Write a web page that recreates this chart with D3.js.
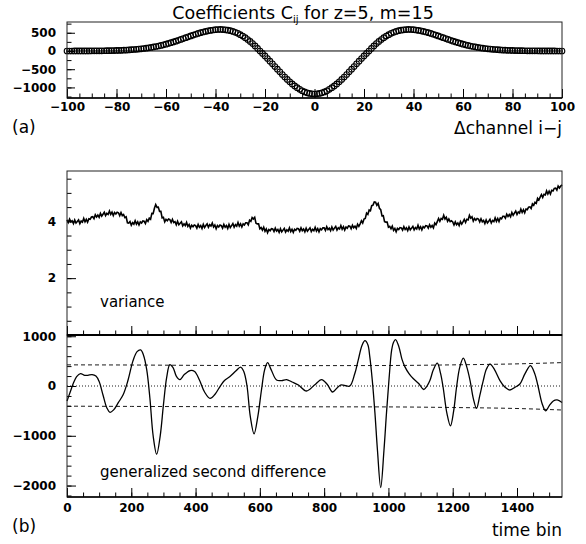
<!DOCTYPE html>
<html>
<head>
<meta charset="utf-8">
<script src="https://cdn.jsdelivr.net/npm/d3@7"></script>
<style>
  body { margin: 0; background: #fff; }
  svg text { font-family: "DejaVu Sans", sans-serif; fill: #000; }
  .tick text { font-size: 12px; font-weight: bold; font-family: "DejaVu Sans", sans-serif; }
  .domain { display: none; }
</style>
</head>
<body>
<svg id="chart" width="586" height="544"></svg>
<script>
// panel (a): coefficients C_ij, lag -100 .. 100
const coefValues = [
  0, 0, 0, 1, 1, 1, 1, 2, 2, 2,
  3, 3, 4, 4, 5, 6, 7, 9, 10, 12,
  14, 16, 19, 22, 26, 30, 35, 40, 46, 52,
  60, 68, 77, 87, 98, 110, 123, 137, 153, 170,
  188, 207, 227, 248, 270, 293, 317, 341, 365, 389,
  413, 436, 459, 481, 501, 520, 537, 552, 565, 576,
  584, 589, 590, 588, 581, 571, 556, 536, 512, 483,
  448, 409, 365, 315, 261, 202, 139, 71, 0, -66,
  -135, -207, -279, -353, -427, -500, -573, -645, -714, -781,
  -844, -904, -958, -1008, -1052, -1091, -1122, -1147, -1165, -1176,
  -1180,
  -1176, -1165, -1147, -1122, -1091, -1052, -1008, -958, -904, -844,
  -781, -714, -645, -573, -500, -427, -353, -279, -207, -135,
  -66, 0, 71, 139, 202, 261, 315, 365, 409, 448,
  483, 512, 536, 556, 571, 581, 588, 590, 589, 584,
  576, 565, 552, 537, 520, 501, 481, 459, 436, 413,
  389, 365, 341, 317, 293, 270, 248, 227, 207, 188,
  170, 153, 137, 123, 110, 98, 87, 77, 68, 60,
  52, 46, 40, 35, 30, 26, 22, 19, 16, 14,
  12, 10, 9, 7, 6, 5, 4, 4, 3, 3,
  2, 2, 2, 1, 1, 1, 1, 0, 0, 0
];
const coefLags = d3.range(-100, 101);

// panel (b) top: variance, one value every 4 time bins
const varStep = 4;
const varianceValues = [
  4.05, 3.96, 4.08, 3.98, 4.02, 3.92, 4.05, 3.94, 3.99, 4.05,
  3.92, 4.01, 3.97, 4.10, 3.98, 4.07, 3.97, 4.09, 4.07, 4.15,
  4.16, 4.09, 4.23, 4.15, 4.22, 4.14, 4.28, 4.18, 4.25, 4.32,
  4.20, 4.28, 4.24, 4.36, 4.24, 4.32, 4.20, 4.31, 4.26, 4.32,
  4.30, 4.20, 4.31, 4.20, 4.24, 4.13, 4.16, 3.95, 3.94, 3.99,
  3.86, 3.95, 3.90, 4.02, 3.90, 3.98, 3.87, 3.98, 3.94, 4.01,
  4.00, 3.92, 4.06, 4.00, 4.11, 4.07, 4.28, 4.27, 4.46, 4.59,
  4.49, 4.50, 4.35, 4.35, 4.12, 4.14, 3.98, 4.07, 4.02, 4.08,
  4.06, 3.96, 4.07, 3.96, 3.99, 3.88, 4.00, 3.88, 3.93, 3.98,
  3.84, 3.91, 3.85, 3.96, 3.82, 3.89, 3.76, 3.86, 3.81, 3.87,
  3.85, 3.76, 3.89, 3.79, 3.85, 3.75, 3.89, 3.78, 3.85, 3.91,
  3.79, 3.88, 3.83, 3.94, 3.80, 3.87, 3.74, 3.85, 3.80, 3.87,
  3.85, 3.76, 3.89, 3.79, 3.85, 3.75, 3.89, 3.78, 3.85, 3.92,
  3.79, 3.88, 3.83, 3.96, 3.83, 3.91, 3.80, 3.91, 3.87, 3.95,
  3.95, 3.88, 4.04, 4.00, 4.13, 4.08, 4.14, 3.93, 3.91, 3.91,
  3.74, 3.78, 3.69, 3.79, 3.65, 3.73, 3.60, 3.71, 3.67, 3.74,
  3.73, 3.64, 3.76, 3.66, 3.71, 3.61, 3.74, 3.63, 3.69, 3.75,
  3.62, 3.70, 3.65, 3.77, 3.64, 3.72, 3.61, 3.72, 3.68, 3.75,
  3.74, 3.65, 3.77, 3.67, 3.73, 3.63, 3.76, 3.65, 3.71, 3.77,
  3.64, 3.72, 3.67, 3.79, 3.66, 3.74, 3.63, 3.74, 3.70, 3.77,
  3.77, 3.68, 3.81, 3.71, 3.76, 3.67, 3.80, 3.69, 3.76, 3.82,
  3.69, 3.77, 3.73, 3.85, 3.72, 3.81, 3.69, 3.80, 3.76, 3.84,
  3.83, 3.74, 3.86, 3.77, 3.83, 3.75, 3.90, 3.82, 3.91, 4.02,
  3.94, 4.08, 4.10, 4.29, 4.24, 4.40, 4.37, 4.55, 4.57, 4.68,
  4.67, 4.56, 4.63, 4.46, 4.41, 4.19, 4.20, 3.99, 3.97, 3.97,
  3.79, 3.82, 3.74, 3.83, 3.68, 3.75, 3.63, 3.75, 3.71, 3.78,
  3.77, 3.69, 3.81, 3.71, 3.77, 3.67, 3.80, 3.70, 3.76, 3.82,
  3.70, 3.78, 3.73, 3.86, 3.73, 3.81, 3.70, 3.81, 3.77, 3.85,
  3.84, 3.76, 3.88, 3.79, 3.85, 3.77, 3.94, 3.88, 3.99, 4.10,
  4.00, 4.10, 4.07, 4.21, 4.08, 4.14, 4.00, 4.08, 3.99, 4.02,
  3.98, 3.87, 3.98, 3.88, 3.94, 3.85, 3.99, 3.90, 3.98, 4.07,
  3.96, 4.07, 4.05, 4.21, 4.11, 4.16, 4.01, 4.10, 4.04, 4.10,
  4.08, 3.98, 4.09, 3.98, 4.03, 3.92, 4.05, 3.94, 4.00, 4.07,
  3.94, 4.03, 3.99, 4.12, 4.00, 4.10, 3.99, 4.12, 4.09, 4.18,
  4.18, 4.11, 4.25, 4.17, 4.24, 4.16, 4.31, 4.21, 4.29, 4.36,
  4.24, 4.33, 4.29, 4.43, 4.31, 4.41, 4.30, 4.43, 4.41, 4.50,
  4.51, 4.45, 4.61, 4.56, 4.67, 4.63, 4.81, 4.75, 4.85, 4.94,
  4.84, 4.95, 4.93, 5.07, 4.96, 5.06, 4.96, 5.09, 5.07, 5.16,
  5.17, 5.10, 5.24, 5.17, 5.24, 5.28
];

// panel (b) bottom: generalized second difference
const gsdBins = [
  0, 10, 20, 30, 42, 55, 65, 78, 90, 100, 112, 124, 134, 145, 160, 175, 190, 205, 218, 229,
  238, 248, 258, 268, 279, 290, 300, 310, 320, 330, 340, 351, 365, 383, 397, 412, 428, 445, 460, 476,
  490, 507, 525, 540, 550, 560, 570, 582, 594, 605, 615, 624, 635, 652, 668, 683, 700, 720, 745, 770,
  792, 810, 826, 840, 851, 864, 880, 895, 906, 918, 927, 936, 942, 950, 958, 966, 976, 986, 994, 1002,
  1010, 1016, 1022, 1032, 1042, 1051, 1064, 1077, 1094, 1110, 1120, 1129, 1140, 1152, 1162, 1170, 1182, 1193, 1203, 1212,
  1222, 1233, 1243, 1254, 1264, 1274, 1284, 1295, 1305, 1316, 1330, 1347, 1362, 1378, 1395, 1409, 1425, 1442, 1455, 1466,
  1478, 1489, 1500, 1513, 1525, 1540
];
const gsdValues = [
  -300, -120, 60, 190, 250, 215, 215, 230, 200, 90, -180, -440, -530, -480, -330, -170, 120, 500, 690, 725,
  620, 330, -250, -1000, -1370, -1000, -380, 170, 430, 370, 200, 130, 230, 310, 290, 120, -120, -250, -170, -10,
  110, 190, 300, 380, 290, 0, -600, -960, -600, -80, 330, 470, 330, 120, 110, 130, 80, 20, -100, 20,
  130, 30, -120, -40, 20, 10, 0, 240, 520, 820, 910, 830, 590, 100, -540, -1300, -2040, -1300, -540, 150,
  720, 880, 930, 800, 540, 390, 250, 150, 50, -70, 0, 110, 330, 460, 260, -20, -550, -800, -500, -20,
  380, 560, 400, 110, -250, -450, -200, 110, 340, 440, 330, 110, -20, -80, -20, 40, 250, 410, 250, -20,
  -350, -500, -400, -300, -280, -330
];

// threshold bands (dashed)
const bandBins = [0, 200, 400, 600, 800, 1000, 1200, 1400, 1540];
const bandUpper = [425, 422, 415, 410, 410, 412, 425, 445, 470];
const bandLower = [-405, -410, -414, -416, -418, -420, -432, -452, -482];

const svg = d3.select('#chart');
const L = 67, R = 562;

// ---------- panel (a) ----------
const xa = d3.scaleLinear().domain([-100, 100]).range([L, R]);
const ya = d3.scaleLinear().domain([-1290, 795]).range([98, 22]);

svg.append('g').attr('transform', 'translate(0,98)')
  .call(d3.axisBottom(xa).tickValues(d3.range(-100, 101, 5)).tickSize(-4.5).tickFormat(''));
svg.append('g').attr('transform', 'translate(0,98)')
  .call(d3.axisBottom(xa).tickValues(d3.range(-100, 101, 20)).tickSize(-9).tickPadding(4));
svg.append('g').attr('transform', `translate(${L},0)`)
  .call(d3.axisLeft(ya).tickValues(d3.range(-1250, 751, 250)).tickSize(-4.5).tickFormat(''));
svg.append('g').attr('transform', `translate(${L},0)`)
  .call(d3.axisLeft(ya).tickValues([-1000, -500, 0, 500]).tickSize(-8).tickPadding(11).tickFormat(d3.format('d')));

svg.append('line')
  .attr('x1', L).attr('x2', R).attr('y1', ya(0)).attr('y2', ya(0))
  .attr('stroke', '#000').attr('stroke-width', 1);

svg.append('g').selectAll('circle')
  .data(coefValues)
  .join('circle')
  .attr('cx', (d, i) => xa(coefLags[i]))
  .attr('cy', d => ya(d))
  .attr('r', 2.8)
  .attr('fill', 'none')
  .attr('stroke', '#000')
  .attr('stroke-width', 1.1);

svg.append('rect').attr('x', L).attr('y', 22).attr('width', R - L).attr('height', 76)
  .attr('fill', 'none').attr('stroke', '#222').attr('stroke-width', 1);
svg.append('line').attr('x1', L).attr('x2', R).attr('y1', 98).attr('y2', 98)
  .attr('stroke', '#000').attr('stroke-width', 1.6);

svg.append('text').attr('x', 303).attr('y', 18.5).attr('text-anchor', 'middle')
  .style('font-size', '17.5px')
  .call(t => {
    t.append('tspan').text('Coefficients C');
    t.append('tspan').attr('dy', 4).style('font-size', '10px').text('ij');
    t.append('tspan').attr('dy', -4).text(' for z=5, m=15');
  });
svg.append('text').attr('x', 12).attr('y', 133).style('font-size', '17px').text('(a)');
svg.append('text').attr('x', R).attr('y', 134).attr('text-anchor', 'end')
  .style('font-size', '17px').text('\u0394channel i\u2212j');

// ---------- panel (b) ----------
const xb = d3.scaleLinear().domain([0, 1540]).range([L, R]);
const yv = d3.scaleLinear().domain([0, 5.77]).range([335, 171]);
const yg = d3.scaleLinear().domain([-2230, 1025]).range([497, 335]);

// variance axes
svg.append('g').attr('transform', 'translate(0,335)')
  .call(d3.axisBottom(xb).tickValues(d3.range(0, 1541, 50)).tickSize(-4.5).tickFormat(''));
svg.append('g').attr('transform', 'translate(0,335)')
  .call(d3.axisBottom(xb).tickValues(d3.range(0, 1541, 200)).tickSize(-9).tickFormat(''));
svg.append('g').attr('transform', `translate(${L},0)`)
  .call(d3.axisLeft(yv).tickValues(d3.range(0.5, 5.6, 0.5)).tickSize(-4.5).tickFormat(''));
svg.append('g').attr('transform', `translate(${L},0)`)
  .call(d3.axisLeft(yv).tickValues([2, 4]).tickSize(-9).tickPadding(11).tickFormat(d3.format('d')));

svg.append('path')
  .datum(varianceValues)
  .attr('fill', 'none')
  .attr('stroke', '#000')
  .attr('stroke-width', 1.6)
  .attr('d', d3.line().x((d, i) => xb(i * varStep)).y(d => yv(d)));

svg.append('rect').attr('x', L).attr('y', 171).attr('width', R - L).attr('height', 164)
  .attr('fill', 'none').attr('stroke', '#222').attr('stroke-width', 1);

// gsd axes
svg.append('g').attr('transform', 'translate(0,497)')
  .call(d3.axisBottom(xb).tickValues(d3.range(0, 1541, 50)).tickSize(-4.5).tickFormat(''));
svg.append('g').attr('transform', 'translate(0,497)')
  .call(d3.axisBottom(xb).tickValues(d3.range(0, 1541, 200)).tickSize(-9).tickPadding(6).tickFormat(d3.format('d')));
svg.append('g').attr('transform', `translate(${L},0)`)
  .call(d3.axisLeft(yg).tickValues(d3.range(-2200, 1001, 200)).tickSize(-4.5).tickFormat(''));
svg.append('g').attr('transform', `translate(${L},0)`)
  .call(d3.axisLeft(yg).tickValues([-2000, -1000, 0, 1000]).tickSize(-9).tickPadding(11).tickFormat(d3.format('d')));

const bandLine = d3.line().x((d, i) => xb(bandBins[i])).y(d => yg(d)).curve(d3.curveMonotoneX);
[bandUpper, bandLower].forEach(b => {
  svg.append('path').datum(b)
    .attr('fill', 'none').attr('stroke', '#000').attr('stroke-width', 0.9)
    .attr('stroke-dasharray', '4,3')
    .attr('d', bandLine);
});
svg.append('line')
  .attr('x1', L).attr('x2', R).attr('y1', yg(0)).attr('y2', yg(0))
  .attr('stroke', '#000').attr('stroke-width', 0.9).attr('stroke-dasharray', '1,2');

svg.append('path')
  .datum(gsdValues)
  .attr('fill', 'none')
  .attr('stroke', '#000')
  .attr('stroke-width', 1.3)
  .attr('d', d3.line().x((d, i) => xb(gsdBins[i])).y(d => yg(d)).curve(d3.curveCatmullRom.alpha(0.5)));

svg.append('rect').attr('x', L).attr('y', 335).attr('width', R - L).attr('height', 162)
  .attr('fill', 'none').attr('stroke', '#222').attr('stroke-width', 1);
svg.append('line').attr('x1', L).attr('x2', R).attr('y1', 335).attr('y2', 335)
  .attr('stroke', '#000').attr('stroke-width', 2);
svg.append('line').attr('x1', L).attr('x2', R).attr('y1', 497).attr('y2', 497)
  .attr('stroke', '#000').attr('stroke-width', 1.6);

svg.append('text').attr('x', 100).attr('y', 307).style('font-size', '15px').text('variance');
svg.append('text').attr('x', 100).attr('y', 477).style('font-size', '15px').text('generalized second difference');
svg.append('text').attr('x', 12).attr('y', 532).style('font-size', '17px').text('(b)');
svg.append('text').attr('x', R).attr('y', 536).attr('text-anchor', 'end')
  .style('font-size', '17px').text('time bin');
</script>
</body>
</html>
